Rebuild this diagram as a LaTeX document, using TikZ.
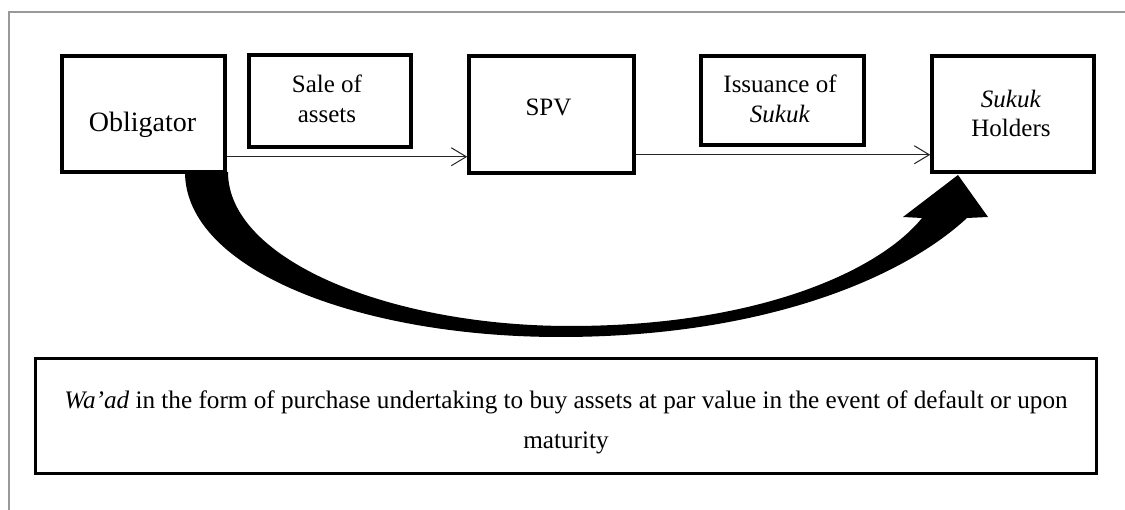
\documentclass[tikz,border=0pt]{standalone}
\usepackage{fontspec}
\setmainfont{Liberation Serif}
\usetikzlibrary{arrows.meta,calc}
\begin{document}
\begin{tikzpicture}[x=1pt,y=-1pt,
  box/.style={draw=black, line width=3.5pt, fill=white, inner sep=0pt},
  txt/.style={font=\fontsize{25}{30}\selectfont, inner sep=0pt, align=center, anchor=base},
  conn/.style={draw=black!85, line width=1pt, -{Straight Barb[length=15pt,width=18pt]}},
  bigarrow/.style={fill=black},
]
\useasboundingbox (0,0) rectangle (1125,510);
\draw[black!40, line width=1.5pt] (9,510) -- (9,12) -- (1125,12);
% curved thick arrow (Obligator -> Sukuk Holders)
\fill[bigarrow] (185,172) .. controls (185,270) and (360,337) .. (560,337)
  .. controls (760,337) and (900,280) .. (967,218)
  -- (988,217) -- (958,175) -- (903,217) -- (922,218)
  .. controls (880,270) and (760,326) .. (570,326)
  .. controls (390,326) and (228,260) .. (228,172) -- cycle;
% boxes
\node[box, minimum width=163pt, minimum height=116pt] (obl) at (143.5,114) {};
\node[box, minimum width=162pt, minimum height=92pt] (sale) at (330,101) {};
\node[box, minimum width=165pt, minimum height=117pt] (spv) at (551.5,114.5) {};
\node[box, minimum width=163pt, minimum height=89pt] (iss) at (782.5,100.5) {};
\node[box, minimum width=162pt, minimum height=116pt] (hold) at (1013,114) {};
\node[box, line width=3pt, minimum width=1061pt, minimum height=115pt] (waad) at (566,416.5) {};
% texts (anchor=base is the baseline of the last line)
\node[txt, font=\fontsize{28}{30}\selectfont] (tobl) at (142.5,132) {Obligator};
\node[txt] (tsale) at (327,123) {Sale of\\assets};
\node[txt] (tspv) at (548.5,116) {SPV};
\node[txt] (tiss) at (780,123) {Issuance of\\\textit{Sukuk}};
\node[txt, font=\fontsize{25}{29}\selectfont] (thold) at (1011,137) {\textit{Sukuk}\\Holders};
\node[txt, font=\fontsize{25.2}{40}\selectfont] (twaad) at (566,449) {\textit{Wa’ad} in the form of purchase undertaking to buy assets at par value in the event of default or upon\\maturity};
% connectors
\draw[conn] ([yshift=17pt]obl.south east) coordinate (a1) -- (a1 -| spv.west);
\draw[conn] ([yshift=20pt]spv.south east) coordinate (a2) -- (a2 -| hold.west);
\end{tikzpicture}
\end{document}
